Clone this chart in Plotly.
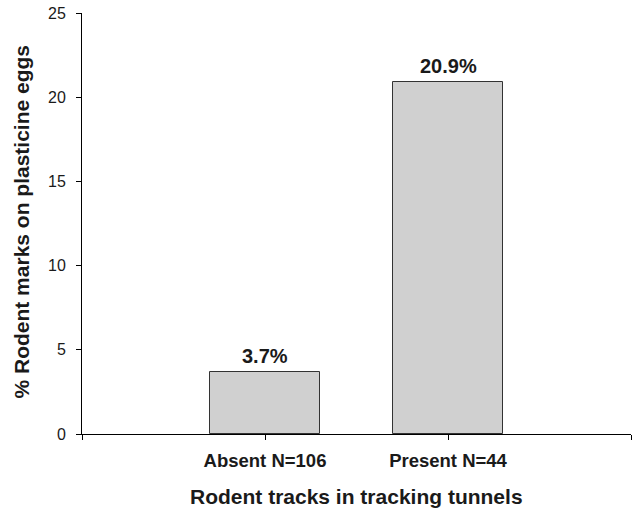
import plotly.graph_objects as go

categories = ["Absent N=106", "Present N=44"]
values = [3.7, 20.9]
value_labels = ["3.7%", "20.9%"]
positions = [1, 2]
y_ticks = [0, 5, 10, 15, 20, 25]

FONT = "Liberation Sans, Arial, Helvetica, sans-serif"
INK = "#1a1a1a"

fig = go.Figure()
fig.add_trace(go.Bar(
    x=positions, y=values, width=0.6,
    marker=dict(color="#d0d0d0", line=dict(color="#333333", width=1)),
    hoverinfo="skip",
))

for xp, v, lab in zip(positions, values, value_labels):
    fig.add_annotation(x=xp, y=v, text=f"<b>{lab}</b>", showarrow=False,
                       xanchor="center", yanchor="bottom", yshift=3,
                       font=dict(family=FONT, size=20, color=INK))

fig.add_annotation(xref="paper", yref="paper", x=0.5, y=-0.1496,
                   text="<b>Rodent tracks in tracking tunnels</b>", showarrow=False,
                   xanchor="center", yanchor="middle",
                   font=dict(family=FONT, size=21, color=INK))
fig.add_annotation(xref="paper", yref="paper", x=-0.111, y=0.5048,
                   text="<b>% Rodent marks on plasticine eggs</b>", showarrow=False,
                   textangle=-90, xanchor="center", yanchor="middle",
                   font=dict(family=FONT, size=21, color=INK))

fig.update_layout(
    width=634, height=511,
    margin=dict(l=82, r=3, t=13, b=77, autoexpand=False),
    plot_bgcolor="white", paper_bgcolor="white",
    showlegend=False,
    font=dict(family=FONT, color=INK),
    xaxis=dict(
        range=[0, 3], tickmode="array", tickvals=[0, 1, 2, 3],
        ticktext=["", "<b>" + categories[0] + "</b>", "<b>" + categories[1] + "</b>", ""],
        showline=True, linecolor="black", linewidth=1,
        ticks="outside", ticklen=5, tickcolor="black", tickwidth=1,
        showgrid=False, zeroline=False, automargin=False,
        tickfont=dict(family=FONT, size=18.5, color=INK),
        ticklabelstandoff=5,
    ),
    yaxis=dict(
        range=[0, 25], tickmode="array", tickvals=y_ticks,
        showline=True, linecolor="black", linewidth=1,
        ticks="outside", ticklen=5, tickcolor="black", tickwidth=1,
        showgrid=False, zeroline=False, automargin=False,
        tickfont=dict(family=FONT, size=16, color=INK),
        ticklabelstandoff=7,
    ),
    bargap=0,
)

fig.write_html("out.html", config={"displayModeBar": False},
               post_script="document.body.style.margin='0';document.body.style.overflow='hidden';")
